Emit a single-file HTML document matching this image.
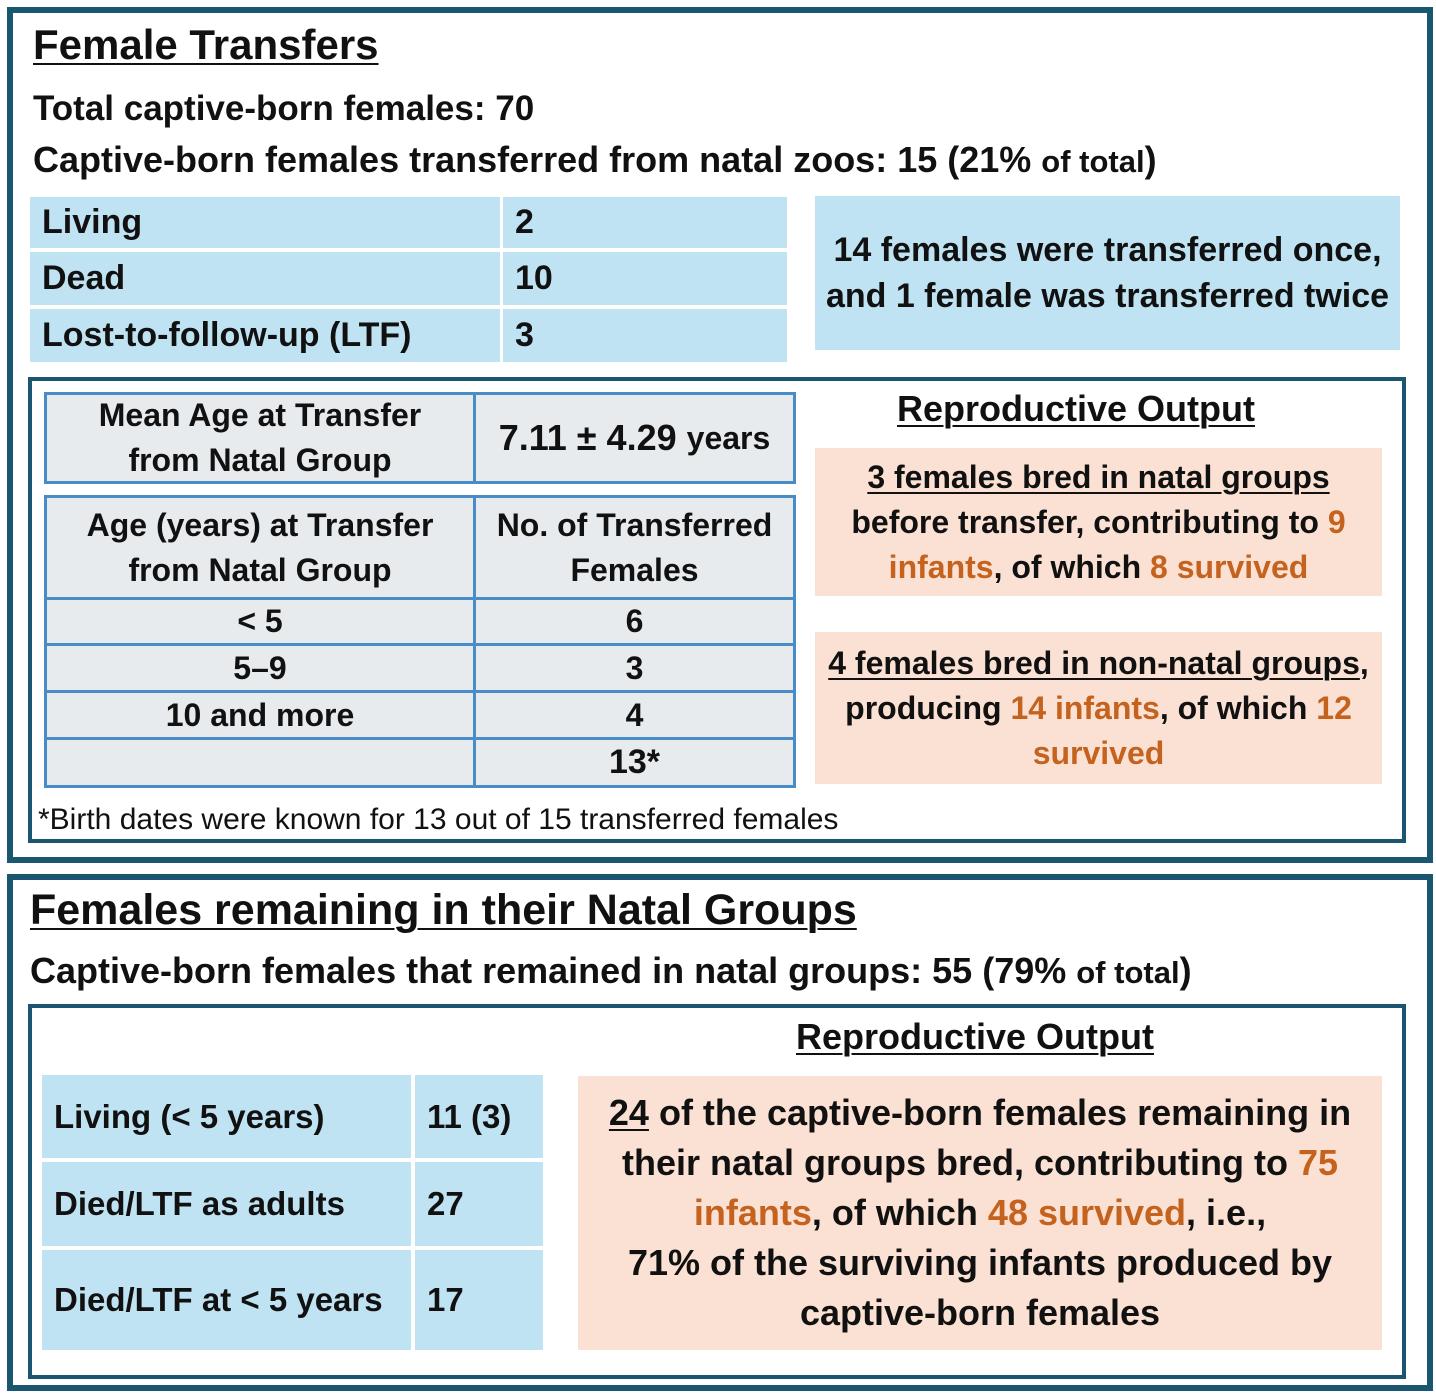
<!DOCTYPE html>
<html><head><meta charset="utf-8"><style>
body{margin:0;width:1436px;height:1393px;background:#fff;position:relative;overflow:hidden;font-family:"Liberation Sans",sans-serif;font-weight:bold;color:#111}
.a{position:absolute;box-sizing:border-box;white-space:nowrap}
.frame{border:6px solid #1a5670}
.ib{border:4px solid #1a5670}
.blue{background:#bfe3f3}
.or{background:#fae1d4}
.c{display:flex;align-items:center;justify-content:center;text-align:center}
.l{display:flex;align-items:center;padding-left:12px}
.g{background:#e7ebee;border:3px solid #4a8cc8}
.o{color:#c4621e}
u{text-decoration-thickness:2px;text-underline-offset:4px}
</style></head><body>
<div class="a frame" style="left:7px;top:7px;width:1426px;height:856px"></div>
<div class="a frame" style="left:7px;top:874px;width:1426px;height:517px"></div>
<div class="a ib" style="left:28px;top:377px;width:1378px;height:466px"></div>
<div class="a ib" style="left:28px;top:1004px;width:1378px;height:375px"></div>

<div class="a" style="left:33px;top:21px;font-size:42px"><u>Female Transfers</u></div>
<div class="a" style="left:33px;top:89px;font-size:35px">Total captive-born females: 70</div>
<div class="a" style="left:33px;top:139px;font-size:36px">Captive-born females transferred from natal zoos: 15 (21% <span style="font-size:31px">of total</span>)</div>

<div class="a blue l" style="left:30px;top:197px;width:470px;height:51px;font-size:34px">Living</div>
<div class="a blue l" style="left:503px;top:197px;width:284px;height:51px;font-size:34px">2</div>
<div class="a blue l" style="left:30px;top:252px;width:470px;height:53px;font-size:34px">Dead</div>
<div class="a blue l" style="left:503px;top:252px;width:284px;height:53px;font-size:34px">10</div>
<div class="a blue l" style="left:30px;top:309px;width:470px;height:53px;font-size:34px">Lost-to-follow-up (LTF)</div>
<div class="a blue l" style="left:503px;top:309px;width:284px;height:53px;font-size:34px">3</div>
<div class="a blue c" style="left:815px;top:196px;width:585px;height:154px;font-size:34px;line-height:46px">14 females were transferred once,<br>and 1 female was transferred twice</div>

<div class="a g c" style="left:44px;top:392px;width:432px;height:92px;font-size:32px;line-height:45px">Mean Age at Transfer<br>from Natal Group</div>
<div class="a g c" style="left:473px;top:392px;width:323px;height:92px;font-size:36px">7.11 ± 4.29&nbsp;<span style="font-size:32px">years</span></div>
<div class="a g c" style="left:44px;top:495px;width:432px;height:105px;font-size:32px;line-height:45px">Age (years) at Transfer<br>from Natal Group</div>
<div class="a g c" style="left:473px;top:495px;width:323px;height:105px;font-size:32px;line-height:45px">No. of Transferred<br>Females</div>
<div class="a g c" style="left:44px;top:597px;width:432px;height:49px;font-size:32px">&lt; 5</div>
<div class="a g c" style="left:473px;top:597px;width:323px;height:49px;font-size:32px">6</div>
<div class="a g c" style="left:44px;top:643px;width:432px;height:50px;font-size:32px">5–9</div>
<div class="a g c" style="left:473px;top:643px;width:323px;height:50px;font-size:32px">3</div>
<div class="a g c" style="left:44px;top:690px;width:432px;height:50px;font-size:32px">10 and more</div>
<div class="a g c" style="left:473px;top:690px;width:323px;height:50px;font-size:32px">4</div>
<div class="a g c" style="left:44px;top:737px;width:432px;height:51px;font-size:32px"></div>
<div class="a g c" style="left:473px;top:737px;width:323px;height:51px;font-size:34px">13*</div>
<div class="a" style="left:38px;top:803px;font-size:30px;font-weight:normal">*Birth dates were known for 13 out of 15 transferred females</div>

<div class="a" style="left:815px;top:388px;width:522px;text-align:center;font-size:36px"><u>Reproductive Output</u></div>
<div class="a or c" style="left:815px;top:448px;width:567px;height:148px;font-size:32px;line-height:45px"><div><u>3 females bred in natal groups</u><br>before transfer, contributing to <span class="o">9</span><br><span class="o">infants</span>, of which <span class="o">8 survived</span></div></div>
<div class="a or c" style="left:815px;top:632px;width:567px;height:152px;font-size:32px;line-height:45px"><div><u>4 females bred in non-natal groups</u>,<br>producing <span class="o">14 infants</span>, of which <span class="o">12</span><br><span class="o">survived</span></div></div>

<div class="a" style="left:30px;top:886px;font-size:43px"><u>Females remaining in their Natal Groups</u></div>
<div class="a" style="left:30px;top:950px;font-size:36px">Captive-born females that remained in natal groups: 55 (79% <span style="font-size:31px">of total</span>)</div>

<div class="a blue l" style="left:42px;top:1075px;width:369px;height:83px;font-size:33px">Living (&lt; 5 years)</div>
<div class="a blue l" style="left:415px;top:1075px;width:128px;height:83px;font-size:33px">11 (3)</div>
<div class="a blue l" style="left:42px;top:1162px;width:369px;height:84px;font-size:33px">Died/LTF as adults</div>
<div class="a blue l" style="left:415px;top:1162px;width:128px;height:84px;font-size:33px">27</div>
<div class="a blue l" style="left:42px;top:1250px;width:369px;height:100px;font-size:33px">Died/LTF at &lt; 5 years</div>
<div class="a blue l" style="left:415px;top:1250px;width:128px;height:100px;font-size:33px">17</div>

<div class="a" style="left:700px;top:1016px;width:550px;text-align:center;font-size:36px"><u>Reproductive Output</u></div>
<div class="a or c" style="left:578px;top:1076px;width:804px;height:274px;font-size:36px;line-height:50px"><div><u>24</u> of the captive-born females remaining in<br>their natal groups bred, contributing to <span class="o">75</span><br><span class="o">infants</span>, of which <span class="o">48 survived</span>, i.e.,<br>71% of the surviving infants produced by<br>captive-born females</div></div>
</body></html>
